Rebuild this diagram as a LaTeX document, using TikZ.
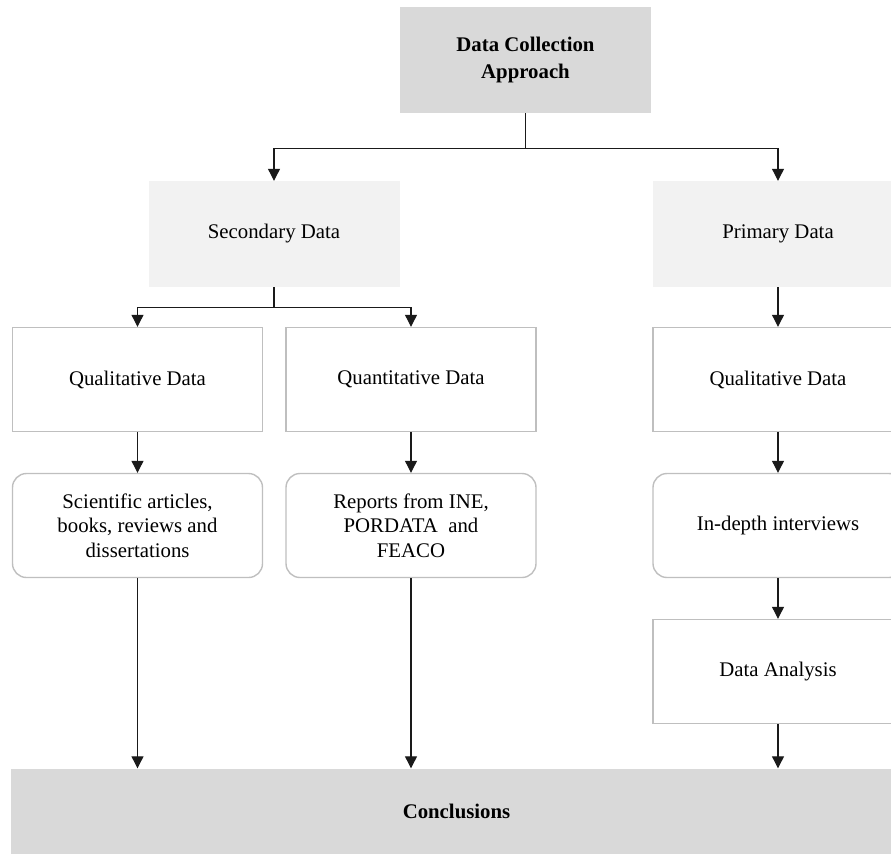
\documentclass[tikz,border=0pt]{standalone}
\usepackage{fontspec}
\setmainfont{Liberation Serif}
\usetikzlibrary{arrows.meta}
\definecolor{darkfill}{HTML}{D9D9D9}
\definecolor{lightfill}{HTML}{F2F2F2}
\definecolor{boxline}{HTML}{BFBFBF}
\definecolor{arrline}{HTML}{1A1A1A}
\begin{document}
\begin{tikzpicture}[x=1pt,y=-1pt,
  every node/.style={font=\fontsize{20.8}{24.5}\selectfont, align=center, inner sep=0pt, anchor=center},
  titletext/.style={font=\fontsize{20.8}{27}\selectfont\bfseries},
  darkbox/.style={fill=darkfill, draw=none, minimum width=251pt, minimum height=106pt},
  lightbox/.style={fill=lightfill, draw=none, minimum width=251pt, minimum height=106pt},
  plainbox/.style={fill=white, draw=boxline, line width=1.4pt, minimum width=250pt, minimum height=104pt},
  roundbox/.style={plainbox, rounded corners=14pt},
  arr/.style={draw=arrline, line width=1.1pt, -{Triangle[width=12pt,length=12pt]}}
]
\useasboundingbox (0,0) rectangle (891,854);

\node[darkbox, titletext] (top) at (525.5,60) {Data Collection\\Approach};
\node[lightbox] (sec) at (274,234) {Secondary Data};
\node[lightbox] (pri) at (778,234) {Primary Data};

\node[plainbox] (qualL) at (137.5,379.5) {Qualitative Data};
\node[plainbox] (quant) at (411,379.5) {Quantitative Data};
\node[plainbox] (qualR) at (778,379.5) {Qualitative Data};

\node[roundbox] (sci) at (137.5,525.5) {Scientific articles,\\books, reviews and\\dissertations};
\node[roundbox] (rep) at (411,525.5) {Reports from INE,\\PORDATA\ \ and\\FEACO};
\node[roundbox] (int) at (778,525.5) {In-depth interviews};

\node[plainbox] (da) at (778,671.5) {Data Analysis};

\node[fill=darkfill, minimum width=892pt, minimum height=85pt, titletext] (concl) at (456.5,811) {Conclusions};

\draw[arr] (top.south) -- ++(0,35) -| (sec.north);
\draw[arr] (top.south) -- ++(0,35) -| (pri.north);
\draw[arr] (sec.south) -- ++(0,20) -| (qualL.north);
\draw[arr] (sec.south) -- ++(0,20) -| (quant.north);
\draw[arr] (pri.south) -- (qualR.north);
\draw[arr] (qualL.south) -- (sci.north);
\draw[arr] (quant.south) -- (rep.north);
\draw[arr] (qualR.south) -- (int.north);
\draw[arr] (int.south) -- (da.north);
\draw[arr] (sci.south) -- (sci.south |- concl.north);
\draw[arr] (rep.south) -- (rep.south |- concl.north);
\draw[arr] (da.south) -- (da.south |- concl.north);
\end{tikzpicture}
\end{document}
